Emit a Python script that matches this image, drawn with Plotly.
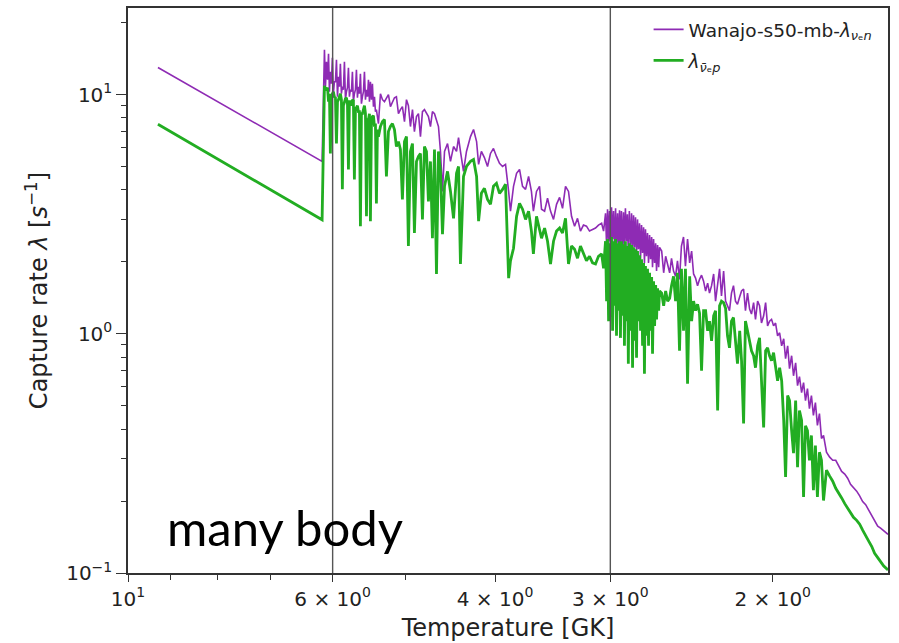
import math
import plotly.graph_objects as go

# Temperature along the trajectory [GK]
temperature = [
    9.28, 6.16,
    6.124, 6.108, 6.093, 6.077, 6.062, 6.048, 6.034, 6.019, 6.004, 5.989,
    5.974, 5.958, 5.943, 5.928, 5.913, 5.899, 5.885, 5.870, 5.856, 5.841,
    5.826, 5.811, 5.797, 5.782, 5.768, 5.754, 5.740, 5.725, 5.711, 5.697,
    5.683, 5.668, 5.654, 5.640, 5.626, 5.612, 5.598, 5.584, 5.570, 5.556,
    5.542, 5.528, 5.514, 5.500, 5.487, 5.473, 5.460, 5.446, 5.433, 5.419,
    5.405, 5.392, 5.379, 5.365, 5.352,
    5.325, 5.298,
    5.272, 5.246, 5.220, 5.194, 5.168, 5.142, 5.117, 5.091, 5.066, 5.041,
    5.015, 4.990, 4.966, 4.941, 4.916, 4.892, 4.867, 4.843, 4.819, 4.795,
    4.771, 4.747, 4.724, 4.700, 4.677, 4.653, 4.630, 4.607, 4.584,
    4.561, 4.538, 4.504, 4.471, 4.437, 4.404, 4.382, 4.361, 4.328, 4.296,
    4.253, 4.221, 4.189, 4.168, 4.139, 4.108, 4.076, 4.046, 4.016, 3.986,
    3.956, 3.926, 3.897, 3.867, 3.849, 3.820, 3.791, 3.763, 3.735, 3.707,
    3.679, 3.653, 3.635, 3.607, 3.580, 3.562, 3.535, 3.509, 3.483, 3.457,
    3.431, 3.405, 3.380, 3.355, 3.330, 3.305, 3.280, 3.256, 3.232, 3.208,
    3.184, 3.160, 3.136, 3.113, 3.090, 3.066, 3.051,
    3.036, 3.028, 3.021, 3.013, 3.006, 2.998, 2.991, 2.983, 2.976, 2.968,
    2.961, 2.954, 2.946, 2.939, 2.932, 2.925, 2.918, 2.910, 2.903, 2.896,
    2.889, 2.882, 2.875, 2.868, 2.861, 2.852, 2.845, 2.838, 2.831, 2.824,
    2.817, 2.810, 2.803, 2.796, 2.789, 2.782, 2.775, 2.768, 2.761, 2.755,
    2.748, 2.741, 2.734, 2.727, 2.720, 2.713, 2.706, 2.700, 2.693, 2.686,
    2.679, 2.673, 2.666, 2.659, 2.653,
    2.639, 2.626, 2.613, 2.600, 2.587, 2.575, 2.562, 2.549, 2.537, 2.524,
    2.512, 2.499, 2.487, 2.474, 2.461, 2.449, 2.437, 2.425, 2.413, 2.401,
    2.389, 2.377, 2.365, 2.353, 2.342, 2.330, 2.318, 2.307, 2.295, 2.284,
    2.273, 2.261, 2.250, 2.239, 2.228, 2.217, 2.206, 2.195, 2.184, 2.172,
    2.162, 2.151, 2.141, 2.130, 2.119, 2.109, 2.098, 2.088, 2.077, 2.067,
    2.057, 2.046, 2.036, 2.026, 2.016, 2.006, 1.996, 1.986, 1.976, 1.966,
    1.956, 1.946, 1.937, 1.927, 1.918, 1.908, 1.899, 1.889, 1.880, 1.871,
    1.861, 1.852, 1.843, 1.834, 1.825, 1.816, 1.807, 1.798, 1.789, 1.780,
    1.771, 1.762,
    1.749, 1.735, 1.722, 1.709, 1.696, 1.684, 1.671, 1.659, 1.647, 1.635,
    1.622, 1.610, 1.598, 1.586, 1.574, 1.562, 1.551, 1.539, 1.528, 1.516,
    1.500,
]

# Capture rate of nu_e on neutrons [1/s]
rate_nue_n = [
    13.0, 5.26,
    15.40, 10.80, 13.72, 11.55, 14.82, 10.29, 12.47, 11.11, 14.26, 10.09,
    11.33, 11.33, 13.99, 9.81, 11.89, 10.80, 13.46, 10.09, 10.80, 10.49,
    13.72, 9.53, 10.29, 10.70, 12.95, 9.81, 10.49, 10.29, 12.47, 9.35,
    10.09, 10.49, 12.70, 9.71, 10.80, 10.09, 12.23, 9.17, 9.81, 10.29,
    12.47, 9.53, 10.49, 9.81, 11.55, 9.35, 11.33, 9.53, 11.11, 8.91,
    9.81, 8.49, 8.66, 7.87, 7.57,
    10.09, 9.53,
    9.35, 9.71, 10.00, 8.91, 9.35, 9.71, 9.81, 8.33, 8.66, 8.91,
    7.72, 9.53, 9.00, 7.36, 8.66, 7.01, 8.10, 8.33, 6.68, 8.49,
    8.66, 8.33, 8.10, 7.36, 8.49, 8.33, 7.87, 7.36, 5.79,
    3.94, 5.79, 6.25, 5.26, 6.07, 5.79, 6.62, 5.79, 4.78, 5.79,
    6.68, 7.15, 6.37, 5.11, 5.79, 5.46, 5.01, 5.68, 5.96, 5.52,
    5.16, 5.01, 5.11, 3.94, 3.26, 4.14, 4.69, 4.87, 4.14, 4.02,
    4.55, 3.94, 3.26, 3.94, 4.14, 3.32, 3.26, 3.69, 3.26, 3.01,
    3.48, 3.72, 3.35, 4.14, 3.94, 3.10, 2.82, 3.04, 2.69, 2.85,
    2.82, 2.69, 2.74, 2.77, 2.85, 2.90, 2.69,
    3.19, 2.33, 3.32, 2.44, 3.26, 2.22, 3.38, 2.49, 3.26, 2.26,
    3.35, 2.39, 3.19, 2.18, 3.29, 2.35, 3.26, 2.22, 3.22, 2.30,
    3.35, 2.44, 3.16, 2.13, 3.26, 2.35, 3.19, 2.18, 3.13, 2.30,
    3.07, 2.09, 3.01, 2.26, 2.90, 2.05, 2.85, 2.18, 2.79, 1.98,
    2.74, 2.11, 2.64, 1.98, 2.59, 2.05, 2.54, 1.90, 2.49, 1.98,
    2.39, 1.83, 2.35, 1.90, 2.30,
    2.22, 1.80, 2.11, 1.96, 1.80, 2.07, 1.83, 1.74, 2.02, 1.69,
    2.33, 2.54, 1.92, 2.49, 1.98, 2.22, 1.78, 1.71, 1.59, 1.69,
    1.76, 1.66, 1.51, 1.63, 1.48, 1.59, 1.78, 1.37, 1.66, 1.87,
    1.44, 1.83, 1.37, 1.31, 1.25, 1.48, 1.59, 1.37, 1.33, 1.43,
    1.51, 1.54, 1.25, 1.48, 1.27, 1.21, 1.35, 1.15, 1.37, 1.31,
    1.11, 1.19, 1.35, 1.08, 1.13, 1.15, 1.08, 1.11, 0.981, 1.01,
    0.891, 0.953, 0.787, 0.891, 0.715, 0.810, 0.668, 0.757, 0.607, 0.662,
    0.568, 0.625, 0.526, 0.590, 0.487, 0.552, 0.456, 0.516, 0.414, 0.464,
    0.365, 0.376,
    0.320, 0.305, 0.296, 0.296, 0.279, 0.266, 0.259, 0.249, 0.235, 0.228,
    0.220, 0.210, 0.199, 0.193, 0.183, 0.176, 0.166, 0.157, 0.154, 0.150,
    0.145,
]

# Capture rate of anti-nu_e on protons [1/s]
rate_nuebar_p = [
    7.52, 3.00,
    10.90, 10.49, 10.49, 10.70, 9.35, 10.09, 5.68, 9.81, 10.09, 10.29,
    9.81, 9.71, 6.25, 9.35, 9.53, 9.81, 10.09, 9.53, 4.02, 9.00,
    9.35, 9.62, 9.71, 9.17, 4.87, 9.35, 9.35, 9.00, 9.53, 9.44,
    4.42, 8.66, 8.83, 9.00, 8.49, 8.49, 2.82, 8.33, 8.33, 8.83,
    9.00, 8.33, 3.10, 7.87, 7.87, 8.33, 2.96, 7.72, 8.10, 8.17,
    7.36, 7.57, 3.51, 7.15, 6.68,
    7.36, 7.72,
    7.87, 4.55, 7.01, 7.36, 7.57, 7.15, 6.07, 6.37, 5.90, 3.65,
    6.37, 6.68, 2.33, 5.79, 6.25, 2.64, 5.26, 5.52, 5.68, 3.01,
    6.07, 5.79, 3.58, 5.26, 2.51, 5.90, 1.78, 5.79, 4.78,
    2.61, 4.14, 4.78, 3.94, 3.04, 4.69, 5.01, 1.96, 4.55, 5.01,
    5.26, 5.36, 4.55, 2.96, 3.87, 4.06, 3.65, 3.48, 4.14, 4.26,
    3.87, 4.02, 4.22, 1.71, 2.02, 2.28, 3.10, 3.51, 3.32, 3.01,
    3.26, 2.69, 2.16, 3.10, 2.74, 2.51, 2.77, 2.44, 1.96, 2.44,
    2.69, 2.77, 2.64, 3.04, 1.96, 2.33, 2.26, 2.07, 2.33, 2.18,
    2.02, 2.11, 1.98, 1.96, 2.11, 2.16, 1.88,
    2.44, 1.37, 2.49, 1.13, 2.39, 1.51, 2.54, 1.03, 2.44, 1.31,
    2.49, 0.981, 2.39, 1.25, 2.44, 0.962, 2.44, 1.19, 2.37, 0.891,
    2.44, 1.13, 2.33, 0.750, 2.39, 1.03, 2.35, 0.722, 2.30, 0.935,
    2.26, 0.795, 2.22, 1.13, 2.13, 1.03, 2.05, 0.891, 1.98, 0.681,
    1.92, 0.981, 1.87, 0.891, 1.80, 1.03, 1.73, 0.826, 1.66, 1.08,
    1.60, 1.15, 1.55, 1.25, 1.51,
    1.48, 1.31, 1.51, 1.37, 1.41, 1.59, 1.74, 1.37, 1.80, 0.850,
    1.87, 1.03, 1.87, 0.619, 1.74, 1.13, 1.37, 1.25, 1.33, 1.22,
    0.701, 1.25, 1.25, 1.03, 1.13, 0.935, 1.19, 1.25, 0.478, 1.31,
    1.37, 1.35, 1.28, 0.981, 0.874, 1.13, 1.17, 0.935, 0.750, 1.03,
    0.772, 0.422, 1.13, 1.03, 0.935, 0.850, 0.810, 0.722, 0.891, 0.962,
    0.637, 0.406, 0.850, 0.874, 0.810, 0.772, 0.834, 0.715, 0.637, 0.722,
    0.637, 0.434, 0.252, 0.552, 0.526, 0.394, 0.317, 0.526, 0.277, 0.478,
    0.434, 0.208, 0.413, 0.394, 0.296, 0.376, 0.222, 0.341, 0.208, 0.320,
    0.296, 0.201,
    0.269, 0.254, 0.242, 0.226, 0.216, 0.206, 0.195, 0.186, 0.178, 0.171,
    0.166, 0.160, 0.151, 0.144, 0.136, 0.129, 0.121, 0.116, 0.111, 0.107,
    0.103,
]

assert len(temperature) == len(rate_nue_n) == len(rate_nuebar_p)

# Reference temperatures marked with vertical lines
marker_temperatures = [6, 3]

# Axis ticks
x_tick_vals = [10, 6, 4, 3, 2]
x_tick_text = ["10<sup>1</sup>", "6 × 10<sup>0</sup>", "4 × 10<sup>0</sup>",
               "3 × 10<sup>0</sup>", "2 × 10<sup>0</sup>"]
x_minor_vals = [9, 8, 7, 5]
y_tick_vals = [0.1, 1, 10]
y_tick_text = ["10<sup>−1</sup>", "10<sup>0</sup>", "10<sup>1</sup>"]
y_minor_vals = [0.2, 0.3, 0.4, 0.5, 0.6, 0.7, 0.8, 0.9,
                2, 3, 4, 5, 6, 7, 8, 9, 20]

PURPLE = "#8e2bb4"
GREEN = "#22ad22"
AXIS = "#333333"
FONT = "DejaVu Sans"

fig = go.Figure()

fig.add_trace(go.Scatter(
    x=temperature, y=rate_nue_n, mode="lines",
    line=dict(color=PURPLE, width=1.6), legendgroup="nue_n",
    name="Wanajo-s50-mb-<i>λ</i><sub><i>ν</i>ₑ<i>n</i></sub>",
))
fig.add_trace(go.Scatter(
    x=temperature, y=rate_nuebar_p, mode="lines",
    line=dict(color=GREEN, width=2.8), legendgroup="nuebar_p",
    name="<i>λ</i><sub><i>ν̄</i>ₑ<i>p</i></sub>",
))

for t in marker_temperatures:
    fig.add_trace(go.Scatter(
        x=[t, t], y=[0.05, 50], mode="lines",
        line=dict(color="#555555", width=1.4),
        showlegend=False, hoverinfo="skip",
    ))

fig.add_annotation(
    text="many body", xref="paper", yref="paper",
    x=0.049, y=0.081, xanchor="left", yanchor="middle",
    showarrow=False, font=dict(family="Lato", size=49, color="black"),
)

fig.update_layout(
    width=899, height=643,
    margin=dict(l=128, r=11, t=6, b=70),
    paper_bgcolor="white", plot_bgcolor="white",
    font=dict(family=FONT, color="#222222"),
    showlegend=True,
    legend=dict(
        x=0.685, y=0.995, xanchor="left", yanchor="top",
        bgcolor="rgba(0,0,0,0)", borderwidth=0, tracegroupgap=4,
        font=dict(family=FONT, size=18.5, color="#222222"),
    ),
    xaxis=dict(
        type="log", range=[1, math.log10(1.5)],
        showline=True, mirror=True, linecolor=AXIS, linewidth=1.5,
        showgrid=False, zeroline=False,
        ticks="outside", ticklen=7, tickwidth=1.3, tickcolor=AXIS,
        tickmode="array", tickvals=x_tick_vals, ticktext=x_tick_text,
        tickfont=dict(family=FONT, size=20, color="#222222"),
        minor=dict(tickmode="array", tickvals=x_minor_vals, ticks="outside",
                   ticklen=5, tickwidth=1.2, tickcolor=AXIS, showgrid=False),
        title=dict(text="Temperature [GK]", standoff=9,
                   font=dict(family=FONT, size=24, color="#222222")),
    ),
    yaxis=dict(
        type="log", range=[-1, 1.3625],
        showline=True, mirror=True, linecolor=AXIS, linewidth=1.5,
        showgrid=False, zeroline=False,
        ticks="outside", ticklen=10, tickwidth=1.3, tickcolor=AXIS,
        tickmode="array", tickvals=y_tick_vals, ticktext=y_tick_text,
        tickfont=dict(family=FONT, size=20, color="#222222"),
        minor=dict(tickmode="array", tickvals=y_minor_vals, ticks="outside",
                   ticklen=5, tickwidth=1.2, tickcolor=AXIS, showgrid=False),
        title=dict(text="Capture rate <i>λ</i> [<i>s</i><sup>−1</sup>]", standoff=12,
                   font=dict(family=FONT, size=24, color="#222222")),
    ),
)

fig.write_html("out.html")
